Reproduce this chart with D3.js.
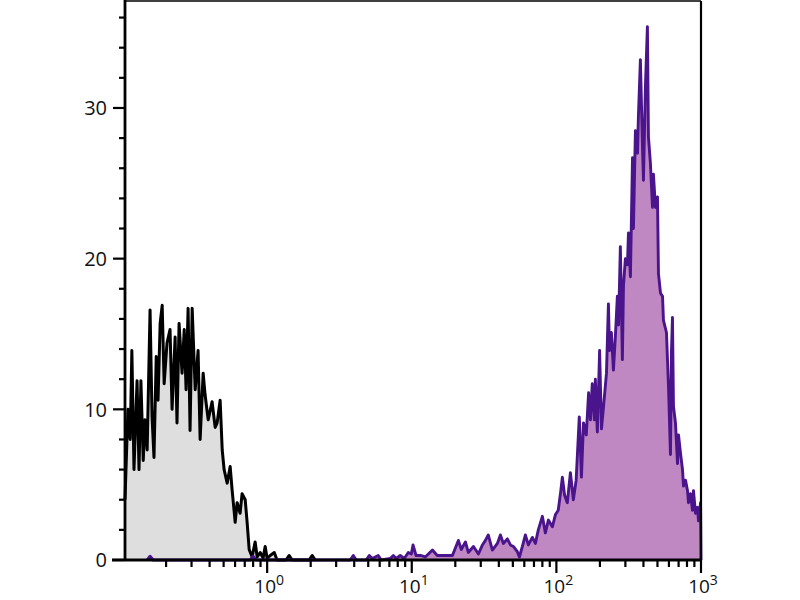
<!DOCTYPE html>
<html><head><meta charset="utf-8">
<script src="https://cdn.jsdelivr.net/npm/d3@7/dist/d3.min.js"></script>
<style>html,body{margin:0;padding:0;background:#fff;}svg{display:block;}</style>
</head><body>
<svg id="chart" width="800" height="600"></svg>
<script>
// ---- data ----
const xDomain = [0.104, 1000];
const yDomain = [0, 37.1];
const yMajorTicks = [0, 10, 20, 30];
const yMinorStep = 2;
const xMajorTicks = [1, 10, 100, 1000];
const xTickExponents = ["0", "1", "2", "3"];

// control (unstained) histogram: intensity, count
const controlX = [0.104,0.109,0.113,0.116,0.120,0.126,0.130,0.134,0.139,0.143,0.148,0.155,0.160,0.165,0.171,0.176,0.182,0.188,0.194,0.203,0.213,0.220,0.231,0.238,0.246,0.258,0.267,0.275,0.284,0.293,0.303,0.318,0.333,0.344,0.361,0.372,0.391,0.416,0.437,0.451,0.473,0.489,0.504,0.529,0.555,0.573,0.601,0.620,0.650,0.671,0.705,0.727,0.751,0.787,0.826,0.853,0.895,0.938,0.969,1.00,1.05,1.12,1.17,1.35,1.42,1.49,1.95,2.05,2.15];
const controlY = [4.0,10,8,13.9,6,11.9,6,11.9,6.6,9.3,7.3,16.6,9.5,6.8,13.5,10.6,15.7,16.9,11.7,14.4,15.3,10,14.8,9.1,15.7,12.4,15.3,11.3,16.7,8.6,16.7,11.3,13.9,8,12.4,11,9.3,10.5,8.8,9.1,10.6,7.3,6,5.1,6.2,4.6,2.5,3.8,3.1,4.4,4.0,2.5,0.7,0.2,1.2,0.2,0.5,0.13,0.9,0.1,0.3,0.5,0,0,0.3,0,0,0.3,0];

// stained histogram: intensity, count
const stainedX = [0.148,0.155,0.163,0.762,0.800,0.839,3.75,3.94,4.13,4.84,5.08,5.33,5.86,6.15,7.10,7.45,7.81,8.32,8.87,9.46,9.93,10.2,10.7,11.5,12.4,13.9,15.0,17.1,19.1,21.0,22.0,23.5,24.6,26.7,28.9,30.8,32.3,33.8,36.1,39.1,41.0,43.0,45.8,48.1,50.4,53.7,55.5,58.2,61.0,64.0,68.2,71.6,75.0,80.0,83.9,88.0,93.8,98.4,103,107,110,114,119,125,131,137,144,149,154,161,167,172,177,183,186,192,199,205,211,222,229,233,240,248,256,264,269,277,286,291,300,310,315,325,336,341,352,364,369,381,394,400,413,426,433,447,462,469,484,500,508,525,542,550,577,596,615,625,635,645,666,688,699,721,745,757,781,807,819,846,873,887,916,946,961,993,1000];
const stainedY = [0,0.25,0,0,0.25,0,0,0.3,0,0,0.3,0.1,0.3,0,0.1,0.3,0.1,0.3,0.1,0.5,0.4,1.0,0.3,0.3,0.2,0.66,0.3,0.3,0.3,1.3,0.7,1.2,0.5,0.9,0.4,1.0,1.3,1.66,0.66,1.1,1.66,1.1,1.4,1.0,0.9,0.55,0.2,0.9,1.66,1.0,1.5,1.1,2.0,2.9,1.8,2.65,2.2,3.0,3.3,4.5,5.5,4.3,3.8,5.8,4.0,5.3,9.5,5.5,9.1,8.3,11.1,9.3,11.7,9.3,12.0,8.5,13.9,8.7,10.0,12.4,17.0,13.9,15.1,12.6,14.9,17.5,15.6,20.8,13.3,18.2,20,19.6,21.7,18.8,26.7,22.0,28.5,27,29.4,33.2,27.4,25.2,31.5,35.4,28.1,26.3,23.4,25.6,23.4,24.1,19.0,17.7,17.5,15.9,15.1,11.5,7.0,13.9,16.1,10.2,9.1,6.4,8.3,7.1,6.0,4.9,5.3,4.6,3.8,4.4,3.3,4.6,3.1,3.5,2.6,3.8,0];

// ---- drawing ----
const svg = d3.select("#chart");
const margin = {left: 125, top: 1, right: 99, bottom: 40};
const W = 800 - margin.left - margin.right;
const H = 600 - margin.top - margin.bottom;
const g = svg.append("g").attr("transform", `translate(${margin.left},${margin.top})`);

const x = d3.scaleLog().domain(xDomain).range([0, W]);
const y = d3.scaleLinear().domain(yDomain).range([H, 0]);

const control = controlX.map((v, i) => [v, controlY[i]]);
const stained = stainedX.map((v, i) => [v, stainedY[i]]);

const area = d3.area().x(d => x(d[0])).y0(y(0)).y1(d => y(d[1]));
const line = d3.line().x(d => x(d[0])).y(d => y(d[1]));

g.append("path").datum(control).attr("d", area).attr("fill", "#dedede");
g.append("path").datum(control).attr("d", line).attr("fill", "none")
  .attr("stroke", "#000").attr("stroke-width", 3).attr("stroke-linejoin", "round");

g.append("path").datum(stained).attr("d", area).attr("fill", "#bf88c2");
g.append("path").datum(stained).attr("d", line).attr("fill", "none")
  .attr("stroke", "#4a148c").attr("stroke-width", 2.9).attr("stroke-linejoin", "round");

// frame: top and right
g.append("line").attr("x1", 0).attr("x2", W).attr("y1", 0).attr("y2", 0)
  .attr("stroke", "#000").attr("stroke-width", 1.6);
g.append("line").attr("x1", W).attr("x2", W).attr("y1", 0).attr("y2", H)
  .attr("stroke", "#000").attr("stroke-width", 2.2);

// y axis
const yAxis = g.append("g");
const yMinor = d3.range(yDomain[0], yDomain[1], yMinorStep).filter(v => !yMajorTicks.includes(v));
yAxis.selectAll("line.minor").data(yMinor).join("line")
  .attr("x1", -6).attr("x2", 0).attr("y1", d => y(d)).attr("y2", d => y(d))
  .attr("stroke", "#000").attr("stroke-width", 2.2);
yAxis.selectAll("line.major").data(yMajorTicks).join("line")
  .attr("x1", -12).attr("x2", 0).attr("y1", d => y(d)).attr("y2", d => y(d))
  .attr("stroke", "#000").attr("stroke-width", 2.2);
yAxis.selectAll("text").data(yMajorTicks).join("text")
  .attr("x", -18).attr("y", d => y(d)).attr("dy", "0.36em")
  .attr("text-anchor", "end").attr("font-family", "Open Sans, Liberation Sans, sans-serif")
  .attr("font-size", 20).attr("fill", "#111").text(d => d);
yAxis.append("line").attr("x1", 0).attr("x2", 0).attr("y1", -1).attr("y2", H)
  .attr("stroke", "#000").attr("stroke-width", 2.8);

// x axis
const xAxis = g.append("g").attr("transform", `translate(0,${H})`);
const xMinor = x.ticks().filter(v => !xMajorTicks.some(m => Math.abs(m - v) < 1e-9) && v >= xDomain[0] && v <= xDomain[1]);
xAxis.selectAll("line.minor").data(xMinor).join("line")
  .attr("x1", d => x(d)).attr("x2", d => x(d)).attr("y1", 0).attr("y2", 7)
  .attr("stroke", "#000").attr("stroke-width", 2.2);
xAxis.selectAll("line.major").data(xMajorTicks).join("line")
  .attr("x1", d => x(d)).attr("x2", d => x(d)).attr("y1", 0).attr("y2", 13)
  .attr("stroke", "#000").attr("stroke-width", 2.2);
xAxis.append("line").attr("x1", -13).attr("x2", W + 1).attr("y1", 0).attr("y2", 0)
  .attr("stroke", "#000").attr("stroke-width", 2.8);
const lbl = xAxis.selectAll("text").data(xMajorTicks).join("text")
  .attr("x", d => x(d) + 2).attr("y", 33)
  .attr("text-anchor", "middle").attr("font-family", "Open Sans, Liberation Sans, sans-serif")
  .attr("font-size", 19).attr("fill", "#111");
lbl.append("tspan").text("10");
lbl.append("tspan").attr("dy", -8).attr("font-size", 14).text((d, i) => xTickExponents[i]);
</script>
</body></html>
